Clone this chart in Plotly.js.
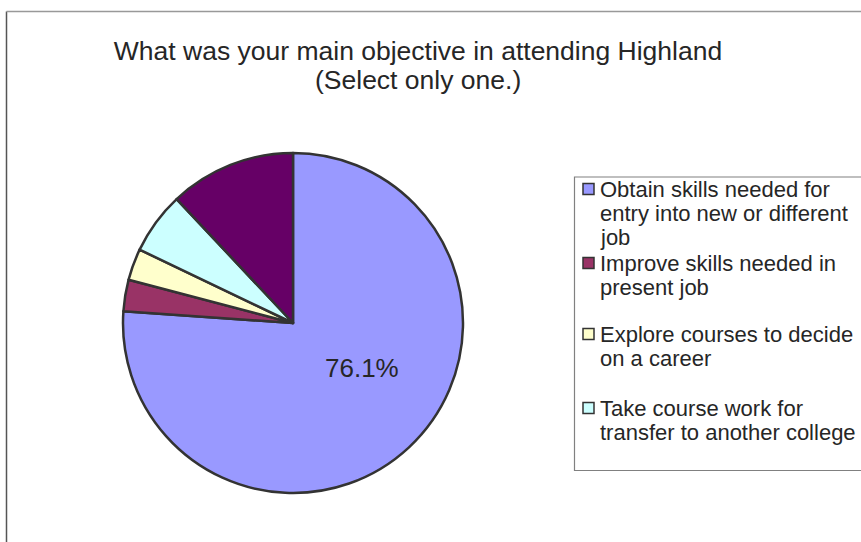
<!DOCTYPE html>
<html>
<head>
<meta charset="utf-8">
<script src="https://cdn.plot.ly/plotly-3.0.1.min.js"></script>
<style>html,body{margin:0;padding:0;background:#fff;}#chart{width:861px;height:542px;}</style>
</head>
<body>
<div id="chart"></div>
<script>
// ---- data ----
var categories = [
  "Obtain skills needed for entry into new or different job",
  "Improve skills needed in present job",
  "Explore courses to decide on a career",
  "Take course work for transfer to another college",
  "Other"
];
var percents = [76.1, 3.0, 3.0, 5.9, 12.0];
var sliceColors = ["#9999FF", "#993366", "#FFFFCC", "#CCFFFF", "#660066"];
var labelledSlice = 0;
// legend text as wrapped lines (only first four entries are visible in the original)
var legendLines = [
  ["Obtain skills needed for", "entry into new or different", "job"],
  ["Improve skills needed in", "present job"],
  ["Explore courses to decide", "on a career"],
  ["Take course work for", "transfer to another college"]
];
var titleLine1 = "What was your main objective in attending Highland";
var titleLine2 = "(Select only one.)";

// ---- layout helpers ----
var W = 861, H = 542;
function px(x) { return x / W; }
function py(y) { return 1 - y / H; }
var FONT = "Liberation Sans, Arial, sans-serif";
var TXT = "#262626";

var pie = {
  type: "pie",
  labels: categories,
  values: percents,
  sort: false,
  direction: "clockwise",
  rotation: 0,
  marker: { colors: sliceColors, line: { color: "#333333", width: 2.5 } },
  textinfo: "none",
  hoverinfo: "label+percent",
  showlegend: false,
  domain: { x: [px(123), px(463)], y: [py(493), py(153)] }
};

var shapes = [
  // chart area border (left and top edges visible)
  { type: "line", xref: "paper", yref: "paper", x0: px(6.5), x1: px(6.5), y0: py(11.5), y1: py(560), line: { color: "#555555", width: 1.5 } },
  { type: "line", xref: "paper", yref: "paper", x0: px(6.5), x1: px(900), y0: py(11.5), y1: py(11.5), line: { color: "#999999", width: 1.5 } },
  // legend box
  { type: "rect", xref: "paper", yref: "paper", x0: px(574.5), x1: px(900), y0: py(177), y1: py(470.5), line: { color: "#808080", width: 1.2 }, fillcolor: "rgba(0,0,0,0)" }
];
var annotations = [
  {
    xref: "paper", yref: "paper", x: px(418), y: py(80), xanchor: "center", yanchor: "middle",
    showarrow: false, text: titleLine2, font: { family: FONT, size: 26.5, color: TXT }
  },
  {
    xref: "paper", yref: "paper", x: px(362), y: py(368), xanchor: "center", yanchor: "middle",
    showarrow: false, text: percents[labelledSlice].toFixed(1) + "%",
    font: { family: FONT, size: 26, color: TXT }
  }
];
var entryTop = [189, 263, 334, 408];
var pitch = 24.4;
legendLines.forEach(function (lines, i) {
  var yc = entryTop[i];
  shapes.push({
    type: "rect", xref: "paper", yref: "paper",
    x0: px(583), x1: px(594), y0: py(yc - 5.5), y1: py(yc + 5.5),
    fillcolor: sliceColors[i], line: { color: "#333333", width: 1.5 }
  });
  lines.forEach(function (t, j) {
    annotations.push({
      xref: "paper", yref: "paper", x: px(598), y: py(yc + j * pitch),
      xanchor: "left", yanchor: "middle", showarrow: false, text: t,
      font: { family: FONT, size: 22, color: TXT }
    });
  });
});

var layout = {
  width: W, height: H,
  margin: { l: 0, r: 0, t: 0, b: 0 },
  paper_bgcolor: "#ffffff",
  title: {
    text: titleLine1,
    font: { family: FONT, size: 26.5, color: TXT },
    x: px(418), xanchor: "center", xref: "paper",
    y: py(51), yanchor: "middle", yref: "container"
  },
  showlegend: false,
  shapes: shapes,
  annotations: annotations
};

Plotly.newPlot("chart", [pie], layout, { displayModeBar: false, staticPlot: true });
</script>
</body>
</html>
